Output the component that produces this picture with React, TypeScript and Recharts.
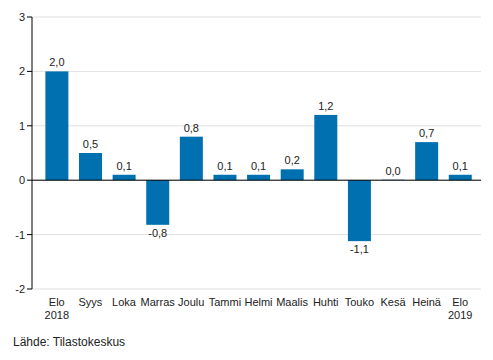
import { BarChart, Bar, XAxis, YAxis, CartesianGrid, ReferenceLine } from "recharts";

// Monthly change, %
const months = ["Elo\n2018", "Syys", "Loka", "Marras", "Joulu", "Tammi", "Helmi", "Maalis", "Huhti", "Touko", "Kesä", "Heinä", "Elo\n2019"];
const values = [2.0, 0.5, 0.1, -0.82, 0.8, 0.1, 0.1, 0.2, 1.2, -1.12, 0.0, 0.7, 0.1];
const yTicks = [-2, -1, 0, 1, 2, 3];

const data = months.map((m, i) => ({ month: m, value: values[i] }));

const BAR_COLOR = "#0070b0";
const FONT = "'Liberation Sans', Arial, sans-serif";

const fmt = (v: number) => v.toFixed(1).replace(".", ",");

function MonthTick({ x, y, payload }: any) {
  const lines = String(payload.value).split("\n");
  return (
    <text x={x} y={y + 9} textAnchor="middle" fontSize={11} fontFamily={FONT} fill="#222">
      {lines.map((l, i) => (
        <tspan key={i} x={x} dy={i === 0 ? 0 : 13}>
          {l}
        </tspan>
      ))}
    </text>
  );
}

// bar rect plus its value label (drawn here so the 0,0 bar gets a label too)
function BarWithLabel(props: any) {
  const { x, y, width, height, payload } = props;
  const v = payload.value as number;
  const top = Math.min(y, y + height);
  const bottom = Math.max(y, y + height);
  const h = Math.max(bottom - top, 1);
  const cx = x + width / 2;
  const ty = v < 0 ? bottom + 12 : top - 5;
  return (
    <g>
      <rect x={x} y={v < 0 ? top : bottom - h} width={width} height={h} fill={v === 0 ? "#9cc4e0" : BAR_COLOR} />
      <text x={cx} y={ty} textAnchor="middle" fontSize={11} fontFamily={FONT} fill="#222">
        {fmt(v)}
      </text>
    </g>
  );
}

export default function App() {
  return (
    <div style={{ position: "absolute", left: 0, top: 0, width: 493, height: 360, background: "#fff", fontFamily: FONT }}>
      <BarChart
        width={493}
        height={360}
        data={data}
        margin={{ top: 17, right: 12, bottom: 31, left: 0 }}
        barCategoryGap="16%"
      >
        <CartesianGrid horizontal vertical={false} stroke="#e0e0e0" />
        <XAxis
          dataKey="month"
          interval={0}
          height={40}
          axisLine={false}
          tickLine={false}
          padding={{ left: 8, right: 4 }}
          tick={<MonthTick />}
        />
        <YAxis
          width={32}
          domain={[-2, 3]}
          ticks={yTicks}
          interval={0}
          axisLine={{ stroke: "#000" }}
          tickLine={{ stroke: "#000" }}
          tickSize={5}
          tick={{ fontSize: 11, fill: "#222", fontFamily: FONT }}
        />
        <Bar dataKey="value" fill={BAR_COLOR} isAnimationActive={false} shape={<BarWithLabel />} />
        <ReferenceLine y={0} stroke="#000" strokeWidth={1} />
      </BarChart>
      <div style={{ position: "absolute", left: 13, top: 335, fontSize: 12, color: "#222" }}>
        Lähde: Tilastokeskus
      </div>
    </div>
  );
}
